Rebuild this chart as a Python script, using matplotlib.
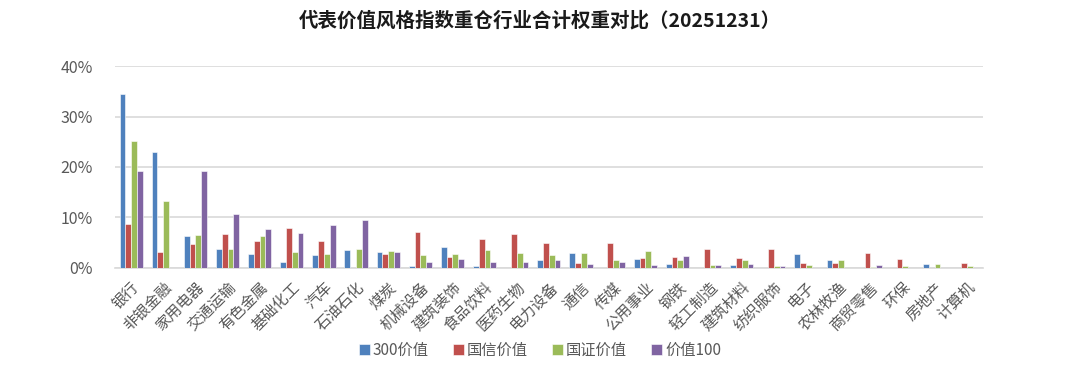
import matplotlib
matplotlib.use("Agg")
import matplotlib.pyplot as plt
import numpy as np
from matplotlib.ticker import PercentFormatter

plt.rcParams['font.family'] = ['Noto Sans CJK SC', 'DejaVu Sans']

industries = ['银行', '非银金融', '家用电器', '交通运输', '有色金属', '基础化工', '汽车', '石油石化',
              '煤炭', '机械设备', '建筑装饰', '食品饮料', '医药生物', '电力设备', '通信', '传媒',
              '公用事业', '钢铁', '轻工制造', '建筑材料', '纺织服饰', '电子', '农林牧渔', '商贸零售',
              '环保', '房地产', '计算机']

# 权重 (%)
v300 = [34.5, 23.0, 6.3, 3.7, 2.8, 1.1, 2.6, 3.6, 3.1, 0.4, 4.2, 0.3, 0, 1.5, 2.9, 0,
        1.8, 0.8, 0, 0.5, 0, 2.8, 1.5, 0, 0, 0.7, 0]
guoxin = [8.7, 3.1, 4.7, 6.8, 5.3, 8.0, 5.4, 0, 2.8, 7.2, 2.1, 5.8, 6.8, 5.0, 0.9, 5.0,
          1.9, 2.1, 3.8, 1.9, 3.8, 0.9, 0.9, 2.9, 1.7, 0, 0.9]
guozheng = [25.1, 13.2, 6.5, 3.8, 6.3, 3.2, 2.7, 3.7, 3.4, 2.6, 2.8, 3.6, 2.9, 2.5, 2.9, 1.6,
            3.3, 1.5, 0.6, 1.5, 0.4, 0.5, 1.5, 0.1, 0.4, 0.7, 0.3]
value100 = [19.3, 0, 19.3, 10.7, 7.7, 7.0, 8.5, 9.5, 3.1, 1.2, 1.8, 1.1, 1.1, 1.5, 0.7, 1.1,
            0.5, 2.3, 0.6, 0.7, 0.3, 0, 0, 0.5, 0, 0, 0]

series = [('300价值', v300, '#4F81BD'),
          ('国信价值', guoxin, '#C0504D'),
          ('国证价值', guozheng, '#9BBB59'),
          ('价值100', value100, '#8064A2')]

fig = plt.figure(figsize=(10.8, 3.65), dpi=100)
ax = fig.add_axes([0.1065, 0.266, 0.8035, 0.553])

x = np.arange(len(industries))
w = 0.18
for i, (name, vals, col) in enumerate(series):
    ax.bar(x + (i - 1.5) * w, np.array(vals) / 100, width=w, color=col,
           edgecolor='white', linewidth=0.4, label=name, zorder=3)

ax.set_ylim(0, 0.4)
ax.set_xlim(-0.5, len(industries) - 0.5)
ax.yaxis.set_major_formatter(PercentFormatter(1.0, decimals=0))
ax.set_yticks([0, 0.1, 0.2, 0.3, 0.4])
ax.grid(axis='y', color='#D9D9D9', linewidth=1.2, zorder=0)
for s in ['top', 'right', 'left']:
    ax.spines[s].set_visible(False)
ax.spines['bottom'].set_color('#D9D9D9')
ax.spines['bottom'].set_linewidth(1.2)
ax.tick_params(length=0, colors='#595959')
ax.tick_params(axis='y', pad=16, labelsize=11.5)
ax.set_xticks(x)
ax.set_xticklabels(industries, rotation=45, ha='right', rotation_mode='anchor', fontsize=11)
ax.tick_params(axis='x', pad=8)

fig.suptitle('代表价值风格指数重仓行业合计权重对比（20251231）', x=0.5, y=0.97,
             fontsize=14, fontweight='bold', color='#1a1a1a')

fig.legend(loc='center', bbox_to_anchor=(0.5, 0.04), ncol=4, frameon=False,
           fontsize=11, handlelength=0.7, handleheight=0.7, handletextpad=0.2,
           columnspacing=1.6, labelcolor='#595959')

fig.savefig('out.png', dpi=100)
